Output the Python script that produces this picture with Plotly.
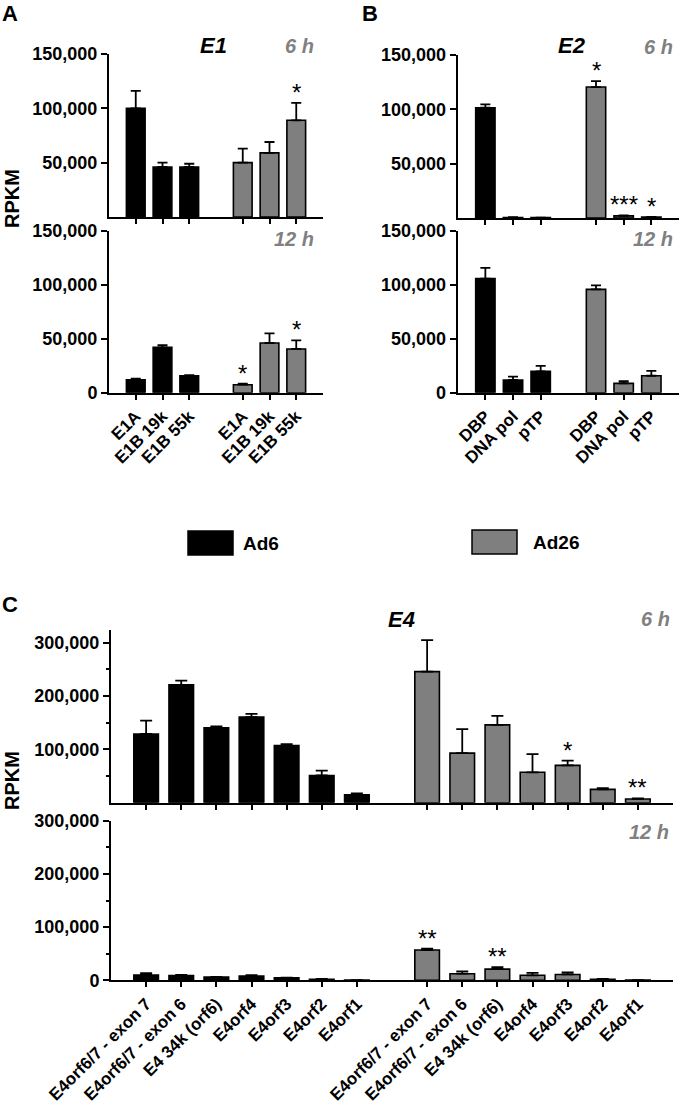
import plotly.graph_objects as go

W, H = 680, 1106

# ---------------- data ----------------
# Panel A: E1
e1_genes = ["E1A", "E1B 19k", "E1B 55k"]
e1_ad6_6h = [100000, 46000, 46000]
e1_ad6_6h_err = [16000, 4000, 3000]
e1_ad26_6h = [50000, 59000, 89000]
e1_ad26_6h_err = [13000, 10000, 16000]
e1_ad6_12h = [12000, 42000, 15700]
e1_ad6_12h_err = [1000, 2000, 500]
e1_ad26_12h = [7400, 46000, 40500]
e1_ad26_12h_err = [1000, 9000, 8000]
e1_sig_6h = ["", "", "*"]
e1_sig_12h = ["*", "", "*"]

# Panel B: E2
e2_genes = ["DBP", "DNA pol", "pTP"]
e2_ad6_6h = [101500, 500, 300]
e2_ad6_6h_err = [3000, 200, 100]
e2_ad26_6h = [120500, 2000, 800]
e2_ad26_6h_err = [5500, 500, 200]
e2_ad6_12h = [105600, 11800, 19800]
e2_ad6_12h_err = [10000, 3000, 5000]
e2_ad26_12h = [95700, 8600, 15700]
e2_ad26_12h_err = [3600, 2000, 4500]
e2_sig_6h = ["*", "***", "*"]
e2_sig_12h = ["", "", ""]

# Panel C: E4
e4_genes = ["E4orf6/7 - exon 7", "E4orf6/7 - exon 6", "E4 34k (orf6)",
            "E4orf4", "E4orf3", "E4orf2", "E4orf1"]
e4_ad6_6h = [129000, 221000, 140500, 160500, 107000, 51000, 15000]
e4_ad6_6h_err = [25000, 8000, 2500, 6000, 3000, 9000, 2500]
e4_ad26_6h = [246000, 93000, 146000, 57000, 70000, 25000, 7000]
e4_ad26_6h_err = [59000, 45000, 17000, 34000, 9000, 2500, 1000]
e4_ad6_12h = [10000, 9000, 6000, 8000, 4500, 2000, 300]
e4_ad6_12h_err = [3500, 1000, 500, 1500, 500, 500, 100]
e4_ad26_12h = [57000, 12400, 21000, 9400, 11000, 2000, 300]
e4_ad26_12h_err = [2500, 4500, 3500, 4500, 4000, 500, 100]
e4_sig_6h = ["", "", "", "", "*", "", "**"]
e4_sig_12h = ["**", "", "**", "", "", "", ""]

series_names = ["Ad6", "Ad26"]
BLACK = "#000000"
GRAY = "#7f7f7f"
FONT = "Liberation Sans, Arial, sans-serif"


def fx(p):
    return p / W


def fy(p):
    return 1 - p / H


panels = [
    dict(genes=e1_genes, a=e1_ad6_6h, ae=e1_ad6_6h_err, b=e1_ad26_6h, be=e1_ad26_6h_err,
         sig=e1_sig_6h, xd=(109, 323), yd=(217, 54), yr=[0, 150000],
         tv=[50000, 100000, 150000], minor=None, labels=False, cap=5, fs=17),
    dict(genes=e1_genes, a=e1_ad6_12h, ae=e1_ad6_12h_err, b=e1_ad26_12h, be=e1_ad26_12h_err,
         sig=e1_sig_12h, xd=(109, 323), yd=(392.7, 230.7), yr=[0, 150000],
         tv=[0, 50000, 100000, 150000], minor=None, labels=True, cap=5, fs=17),
    dict(genes=e2_genes, a=e2_ad6_6h, ae=e2_ad6_6h_err, b=e2_ad26_6h, be=e2_ad26_6h_err,
         sig=e2_sig_6h, xd=(457.7, 679), yd=(218, 55), yr=[0, 150000],
         tv=[50000, 100000, 150000], minor=None, labels=False, cap=5, fs=17),
    dict(genes=e2_genes, a=e2_ad6_12h, ae=e2_ad6_12h_err, b=e2_ad26_12h, be=e2_ad26_12h_err,
         sig=e2_sig_12h, xd=(457.7, 679), yd=(392.7, 230.7), yr=[0, 150000],
         tv=[0, 50000, 100000, 150000], minor=None, labels=True, cap=5, fs=17),
    dict(genes=e4_genes, a=e4_ad6_6h, ae=e4_ad6_6h_err, b=e4_ad26_6h, be=e4_ad26_6h_err,
         sig=e4_sig_6h, xd=(111, 673), yd=(802.7, 630), yr=[0, 324000],
         tv=[100000, 200000, 300000], minor=[50000, 150000, 250000], labels=False, cap=6, fs=17),
    dict(genes=e4_genes, a=e4_ad6_12h, ae=e4_ad6_12h_err, b=e4_ad26_12h, be=e4_ad26_12h_err,
         sig=e4_sig_12h, xd=(111, 673), yd=(980.3, 820.7), yr=[0, 300000],
         tv=[0, 100000, 200000, 300000], minor=[50000, 150000, 250000], labels=True, cap=6, fs=17),
]

fig = go.Figure()
annotations = []
layout = {}

for i, p in enumerate(panels):
    k = "" if i == 0 else str(i + 1)
    n = len(p["genes"])
    xa = list(range(n))
    xb = [n + 1 + j for j in range(n)]
    for xs, vals, errs, col, name in [(xa, p["a"], p["ae"], BLACK, series_names[0]),
                                      (xb, p["b"], p["be"], GRAY, series_names[1])]:
        fig.add_trace(go.Bar(
            x=xs, y=vals, width=0.7, name=name, showlegend=False,
            marker=dict(color=col, line=dict(color="#000000", width=1.6)),
            error_y=dict(type="data", symmetric=False, array=errs,
                         arrayminus=[0] * len(errs), color="#000000",
                         thickness=1.8, width=p["cap"]),
            xaxis="x" + k, yaxis="y" + k, hoverinfo="skip",
        ))
    # significance stars (Ad26 vs Ad6)
    for j, s in enumerate(p["sig"]):
        if s:
            annotations.append(dict(
                x=xb[j], y=p["b"][j] + p["be"][j], xref="x" + k, yref="y" + k,
                text=s, showarrow=False, yanchor="bottom", yshift=-5,
                font=dict(family=FONT, size=24, color="#000000"),
            ))
    layout["xaxis" + k] = dict(
        domain=[fx(p["xd"][0]), fx(p["xd"][1])], anchor="y" + k, automargin=False,
        range=[-1, 2 * n + 1], tickmode="array", tickvals=xa + xb,
        ticktext=p["genes"] + p["genes"], showticklabels=p["labels"],
        tickangle=-45, ticks="outside", ticklen=5, tickwidth=2, tickcolor="#000",
        showline=True, linewidth=2, linecolor="#000", showgrid=False, zeroline=False,
        tickfont=dict(family=FONT, size=p["fs"], color="#000", weight="bold"),
    )
    ya = dict(
        domain=[fy(p["yd"][0]), fy(p["yd"][1])], anchor="x" + k, automargin=False,
        range=p["yr"], tickmode="array", tickvals=p["tv"],
        ticktext=[f"{v:,}" for v in p["tv"]],
        ticks="outside", ticklen=6, tickwidth=2, tickcolor="#000",
        showline=True, linewidth=2, linecolor="#000", showgrid=False, zeroline=False,
        tickfont=dict(family=FONT, size=18, color="#000", weight="bold"),
    )
    if p["minor"]:
        ya["minor"] = dict(tickvals=p["minor"], ticks="outside", ticklen=3,
                           tickwidth=2, tickcolor="#000", showgrid=False)
    layout["yaxis" + k] = ya


def txt(x, y, s, size, color="#000000", xanchor="center"):
    annotations.append(dict(x=fx(x), y=fy(y), xref="paper", yref="paper", text=s,
                            showarrow=False, xanchor=xanchor, yanchor="middle",
                            font=dict(family=FONT, size=size, color=color)))


GREY_T = "#808080"
# panel letters
txt(10, 13, "<b>A</b>", 22)
txt(370, 13, "<b>B</b>", 22)
txt(10, 604, "<b>C</b>", 22)
# gene-region titles
txt(213, 45, "<b><i>E1</i></b>", 22)
txt(572, 45, "<b><i>E2</i></b>", 22)
txt(401, 619, "<b><i>E4</i></b>", 22)
# time labels
txt(299, 46, "<b><i>6 h</i></b>", 20, GREY_T)
txt(294, 239, "<b><i>12 h</i></b>", 20, GREY_T)
txt(658, 47, "<b><i>6 h</i></b>", 20, GREY_T)
txt(653, 239, "<b><i>12 h</i></b>", 20, GREY_T)
txt(655, 619, "<b><i>6 h</i></b>", 20, GREY_T)
txt(649, 832, "<b><i>12 h</i></b>", 20, GREY_T)

# y-axis titles
for yc in (199, 781):
    annotations.append(dict(x=fx(12), y=fy(yc), xref="paper", yref="paper",
                            text="<b>RPKM</b>", textangle=-90, showarrow=False,
                            xanchor="center", yanchor="middle",
                            font=dict(family=FONT, size=20, color="#000")))

# legend (drawn as shapes + text)
shapes = [
    dict(type="rect", xref="paper", yref="paper", x0=fx(188), x1=fx(233),
         y0=fy(555), y1=fy(531), fillcolor=BLACK, line=dict(color="#000", width=1.5)),
    dict(type="rect", xref="paper", yref="paper", x0=fx(472), x1=fx(517),
         y0=fy(554), y1=fy(530), fillcolor=GRAY, line=dict(color="#000", width=1.5)),
]
txt(241, 543, "<b>" + series_names[0] + "</b>", 19, xanchor="left")
txt(531, 542, "<b>" + series_names[1] + "</b>", 19, xanchor="left")

fig.update_layout(
    width=W, height=H, margin=dict(l=0, r=0, t=0, b=0, autoexpand=False),
    paper_bgcolor="white", plot_bgcolor="white",
    barmode="overlay", showlegend=False, hovermode=False,
    annotations=annotations, shapes=shapes,
    font=dict(family=FONT, color="#000"),
    **layout,
)

fig.write_html("out.html", config={"displayModeBar": False, "staticPlot": True},
               post_script="document.body.style.margin='0px';")
